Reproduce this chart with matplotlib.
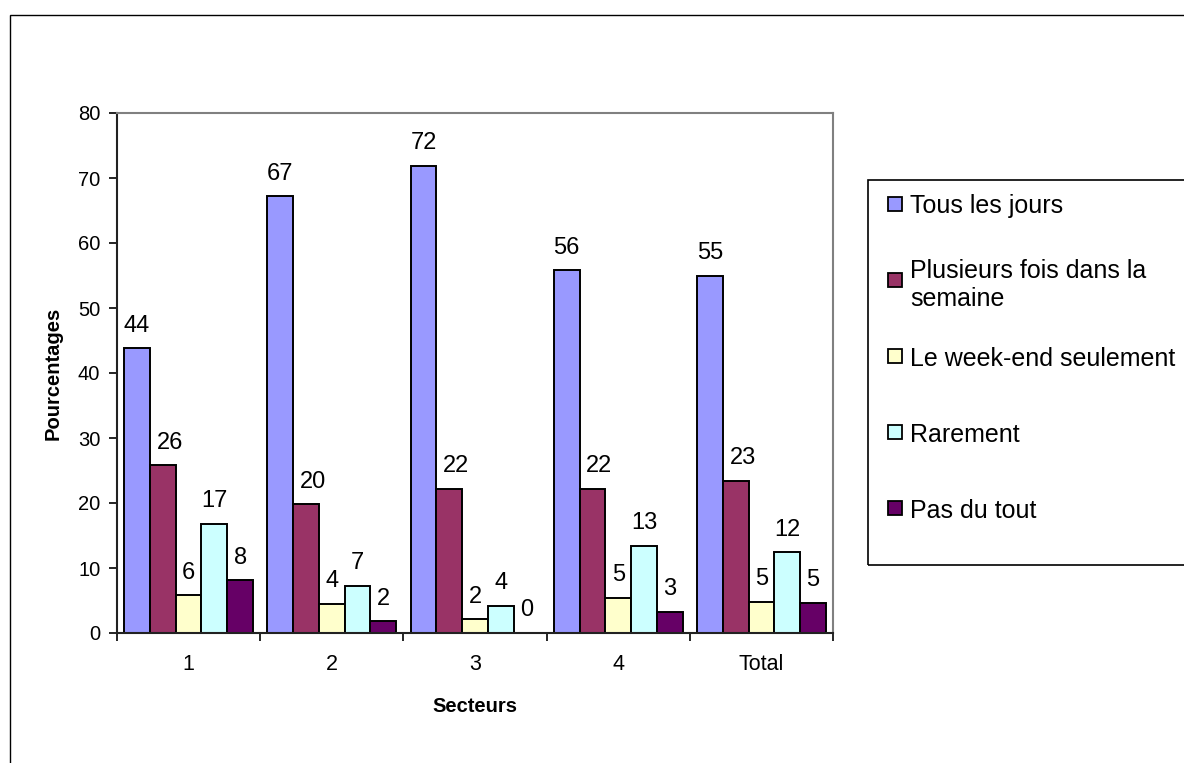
import numpy as np
import matplotlib
matplotlib.use('Agg')
import matplotlib.pyplot as plt
from matplotlib.patches import Rectangle

plt.rcParams['font.family'] = ['Liberation Sans', 'DejaVu Sans']

secteurs = ['1', '2', '3', '4', 'Total']
series = ['Tous les jours', 'Plusieurs fois dans la\nsemaine',
          'Le week-end seulement', 'Rarement', 'Pas du tout']
tous_les_jours = [43.8, 67.2, 71.9, 55.8, 55.0]
plusieurs_fois = [25.8, 19.8, 22.2, 22.2, 23.4]
week_end = [5.8, 4.5, 2.1, 5.4, 4.8]
rarement = [16.8, 7.3, 4.2, 13.4, 12.4]
pas_du_tout = [8.1, 1.8, 0.0, 3.3, 4.6]
colors = ['#9999FF', '#993366', '#FFFFCC', '#CCFFFF', '#660066']

values = [tous_les_jours, plusieurs_fois, week_end, rarement, pas_du_tout]

W, H = 1184, 763
fig = plt.figure(figsize=(W / 100, H / 100), dpi=100)
ax = fig.add_axes([117 / W, 130 / H, 716 / W, 520 / H])

x = np.arange(len(secteurs))
w = 0.18
for i, (vals, col, lab) in enumerate(zip(values, colors, series)):
    pos = x + (i - 2) * w
    bars = ax.bar(pos, vals, w, color=col, edgecolor='black', linewidth=1.4, label=lab)
    # the "Plusieurs fois" labels sit a little to the right in the original
    dx = 5 if i == 1 else 0
    for b, v in zip(bars, vals):
        ax.annotate('%d' % round(v), (b.get_x() + b.get_width() / 2, v),
                    xytext=(dx, 12), textcoords='offset points',
                    ha='center', va='baseline', fontsize=17)

ax.set_xlim(-0.5, len(secteurs) - 0.5)
ax.set_ylim(0, 80)
ax.set_yticks(range(0, 81, 10))
ax.set_xticks(np.arange(-0.5, len(secteurs), 1.0))
ax.set_xticklabels([])
ax.set_xticks(x, minor=True)
ax.set_xticklabels(secteurs, minor=True)
ax.tick_params(axis='x', which='minor', length=0, pad=15, labelsize=15.5)
ax.tick_params(axis='x', which='major', length=6, width=1.2, direction='out', color='black')
ax.tick_params(axis='y', length=6, width=1.2, direction='out', labelsize=14.5, pad=6)

for s in ['top', 'right']:
    ax.spines[s].set_color('#808080')
    ax.spines[s].set_linewidth(1.5)
for s in ['left', 'bottom']:
    ax.spines[s].set_color('#222222')
    ax.spines[s].set_linewidth(1.5)

ax.set_ylabel('Pourcentages', fontsize=14.5, fontweight='bold', labelpad=11)
ax.set_xlabel('Secteurs', fontsize=14.5, fontweight='bold', labelpad=16)

# legend drawn Excel-style: evenly spaced slots, first line aligned with the key
leg_top, leg_bottom, leg_left = 180, 565, 868
fig.patches.append(Rectangle((leg_left / W, 1 - leg_bottom / H), 0.5,
                             (leg_bottom - leg_top) / H, transform=fig.transFigure,
                             fill=False, edgecolor='black', linewidth=1.2))
slot0, slot_step = 204, 76
for i, (lab, col) in enumerate(zip(series, colors)):
    yc = slot0 + i * slot_step
    fig.patches.append(Rectangle((888 / W, 1 - (yc + 7) / H), 14 / W, 14 / H,
                                 transform=fig.transFigure, facecolor=col,
                                 edgecolor='black', linewidth=1.3))
    fig.text(910 / W, 1 - yc / H, lab, fontsize=18, ha='left',
             va='center_baseline', linespacing=1.25)

# outer chart frame
fig.patches.append(Rectangle((10 / W, -0.1), 1.2, 1 - 15 / H + 0.1,
                             transform=fig.transFigure, fill=False,
                             edgecolor='black', linewidth=1.0))

fig.savefig('out.png', dpi=100)
